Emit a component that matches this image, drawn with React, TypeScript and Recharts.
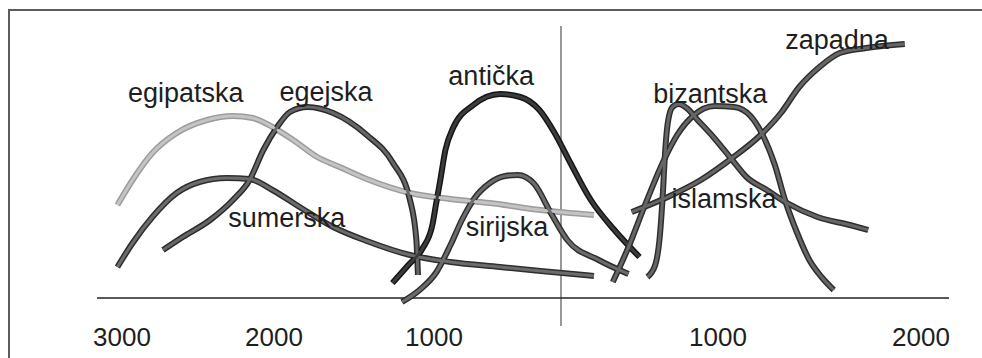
import React from 'react';
import {
  LineChart,
  Line,
  XAxis,
  YAxis,
  ReferenceLine,
  ReferenceDot
} from 'recharts';

// years (negative = BC) and relative weight of each civilisation
const egipatska = [
  { year: -3030, v: 46.5 }, { year: -2930, v: 59 }, { year: -2800, v: 72.5 },
  { year: -2640, v: 82.5 }, { year: -2440, v: 89 }, { year: -2270, v: 91 },
  { year: -2140, v: 90 }, { year: -2010, v: 85.5 }, { year: -1880, v: 79 },
  { year: -1730, v: 70.5 }, { year: -1590, v: 65.5 }, { year: -1420, v: 59.5 },
  { year: -1150, v: 52.5 }, { year: -870, v: 49.5 }, { year: -560, v: 47.5 },
  { year: -160, v: 44 }, { year: 210, v: 41.5 },
];

const sumerska = [
  { year: -3030, v: 15.5 }, { year: -2930, v: 27.5 }, { year: -2800, v: 40.5 },
  { year: -2640, v: 52.5 }, { year: -2490, v: 58 }, { year: -2310, v: 60 },
  { year: -2160, v: 59.5 }, { year: -2010, v: 54 }, { year: -1840, v: 45.5 },
  { year: -1630, v: 35.5 }, { year: -1420, v: 28.5 }, { year: -1150, v: 21.5 },
  { year: -870, v: 18 }, { year: -480, v: 15.5 }, { year: -160, v: 13.5 },
  { year: 210, v: 11 },
];

const egejska = [
  { year: -2730, v: 24 }, { year: -2600, v: 30.5 }, { year: -2420, v: 39 },
  { year: -2270, v: 49 }, { year: -2160, v: 59 }, { year: -2070, v: 74 },
  { year: -1980, v: 85.5 }, { year: -1900, v: 93 }, { year: -1790, v: 95.5 },
  { year: -1630, v: 92.5 }, { year: -1420, v: 81.5 }, { year: -1260, v: 68 },
  { year: -1150, v: 49 }, { year: -1110, v: 29 }, { year: -1100, v: 11.5 },
];

const anticka = [
  { year: -1260, v: 7.5 }, { year: -1160, v: 16.5 }, { year: -1070, v: 25 },
  { year: -1010, v: 36.5 }, { year: -985, v: 46.5 }, { year: -950, v: 59 },
  { year: -910, v: 74 }, { year: -850, v: 85 }, { year: -690, v: 96.5 },
  { year: -480, v: 102 }, { year: -320, v: 100.5 }, { year: -170, v: 94 },
  { year: -50, v: 82.5 }, { year: 60, v: 67.5 }, { year: 190, v: 49 },
  { year: 340, v: 34 }, { year: 500, v: 20.5 },
];

const sirijska = [
  { year: -1200, v: -2 }, { year: -1090, v: 4 }, { year: -980, v: 13 },
  { year: -870, v: 26.5 }, { year: -780, v: 39 }, { year: -680, v: 50 },
  { year: -560, v: 57.5 }, { year: -440, v: 61 }, { year: -340, v: 61.5 },
  { year: -210, v: 57 }, { year: -80, v: 42.5 }, { year: 40, v: 29 },
  { year: 240, v: 19 }, { year: 430, v: 12 },
];

const bizantska = [
  { year: 550, v: 10.5 }, { year: 600, v: 16.5 }, { year: 630, v: 31.5 },
  { year: 650, v: 54 }, { year: 660, v: 69 }, { year: 680, v: 87.5 },
  { year: 710, v: 95.5 }, { year: 750, v: 97 }, { year: 800, v: 95 },
  { year: 870, v: 89 }, { year: 970, v: 80.5 }, { year: 1070, v: 69 },
  { year: 1140, v: 60.5 }, { year: 1240, v: 54 }, { year: 1340, v: 47.5 },
  { year: 1490, v: 40.5 }, { year: 1650, v: 36.5 }, { year: 1740, v: 34 },
];

const islamska = [
  { year: 330, v: 8 }, { year: 430, v: 25.5 }, { year: 530, v: 45.5 },
  { year: 650, v: 68 }, { year: 740, v: 81.5 }, { year: 840, v: 91 },
  { year: 980, v: 96 }, { year: 1080, v: 95.5 }, { year: 1160, v: 91 },
  { year: 1220, v: 81.5 }, { year: 1280, v: 66.5 }, { year: 1330, v: 49 },
  { year: 1390, v: 32.5 }, { year: 1450, v: 19 }, { year: 1510, v: 10.5 },
  { year: 1570, v: 4 },
];

const zapadna = [
  { year: 450, v: 43 }, { year: 680, v: 50.5 }, { year: 890, v: 59 },
  { year: 1070, v: 70 }, { year: 1210, v: 81.5 }, { year: 1310, v: 92.5 },
  { year: 1400, v: 105.5 }, { year: 1500, v: 115.5 }, { year: 1600, v: 122.5 },
  { year: 1730, v: 125 }, { year: 1920, v: 127 },
];

const labels = [
  { text: 'egipatska', year: -2580, v: 102.8 },
  { text: 'egejska', year: -1675, v: 103.3 },
  { text: 'antička', year: -550, v: 111.3 },
  { text: 'sumerska', year: -1920, v: 40.3 },
  { text: 'sirijska', year: -425, v: 35.8 },
  { text: 'bizantska', year: 950, v: 102.3 },
  { text: 'islamska', year: 1030, v: 49.8 },
  { text: 'zapadna', year: 1586, v: 129.3 },
];

const yearTicks = [-3000, -2000, -1000, 1000, 2000];

// the hand drawn time axis is not evenly spaced: piecewise linear scale
const KNOT_YEARS = [-3165, -3000, -2000, -1000, 0, 1000, 2000, 2140];
const KNOT_POS = [0, 0.0293, 0.2077, 0.3955, 0.5446, 0.7289, 0.9671, 1];

function timelineScale() {
  let dom: number[] = [KNOT_YEARS[0], KNOT_YEARS[KNOT_YEARS.length - 1]];
  let rng: number[] = [0, 1];
  const frac = (y: number) => {
    let i = 0;
    while (i < KNOT_YEARS.length - 2 && y > KNOT_YEARS[i + 1]) i++;
    const t = (y - KNOT_YEARS[i]) / (KNOT_YEARS[i + 1] - KNOT_YEARS[i]);
    return KNOT_POS[i] + t * (KNOT_POS[i + 1] - KNOT_POS[i]);
  };
  const s: any = (y: number) => {
    const f0 = frac(dom[0]);
    const f1 = frac(dom[1]);
    const t = (frac(y) - f0) / (f1 - f0);
    return rng[0] + t * (rng[1] - rng[0]);
  };
  s.domain = (d?: number[]) => {
    if (!d) return dom;
    dom = [Number(d[0]), Number(d[1])];
    return s;
  };
  s.range = (r?: number[]) => {
    if (!r) return rng;
    rng = [Number(r[0]), Number(r[1])];
    return s;
  };
  s.copy = () => timelineScale().domain(dom).range(rng);
  s.ticks = () => yearTicks;
  s.invert = (px: number) => {
    const t = (px - rng[0]) / (rng[1] - rng[0]);
    let i = 0;
    while (i < KNOT_POS.length - 2 && t > KNOT_POS[i + 1]) i++;
    const u = (t - KNOT_POS[i]) / (KNOT_POS[i + 1] - KNOT_POS[i]);
    return KNOT_YEARS[i] + u * (KNOT_YEARS[i + 1] - KNOT_YEARS[i]);
  };
  return s;
}

const FONT = '"Liberation Sans", Arial, sans-serif';

const series = [
  { name: 'egipatska', data: egipatska, outer: '#9c9c9c', inner: '#c4c4c4' },
  { name: 'sumerska', data: sumerska, outer: '#2e2e2e', inner: '#6c6c6c' },
  { name: 'egejska', data: egejska, outer: '#2a2a2a', inner: '#666666' },
  { name: 'sirijska', data: sirijska, outer: '#2e2e2e', inner: '#6c6c6c' },
  { name: 'anticka', data: anticka, outer: '#151515', inner: '#3c3c3c' },
  { name: 'zapadna', data: zapadna, outer: '#2e2e2e', inner: '#666666' },
  { name: 'islamska', data: islamska, outer: '#2e2e2e', inner: '#666666' },
  { name: 'bizantska', data: bizantska, outer: '#2e2e2e', inner: '#666666' },
];

export default function App() {
  const scale = timelineScale();
  return (
    <div style={{ position: 'absolute', left: 0, top: 0, width: 982, height: 358, overflow: 'hidden', background: '#fff' }}>
      <div style={{ position: 'absolute', left: 8, top: 9, width: 1000, height: 400, border: '2px solid #5c5c5c' }} />
      <div style={{ position: 'absolute', left: 0, top: 0 }}>
        <LineChart width={982} height={358} margin={{ top: 28, right: 33, bottom: 0, left: 97 }}>
          <XAxis
            type="number"
            dataKey="year"
            domain={[-3165, 2140]}
            scale={scale}
            allowDataOverflow
            ticks={yearTicks}
            interval={0}
            tickFormatter={(y: number) => String(Math.abs(y))}
            axisLine={false}
            tickLine={false}
            tickSize={0}
            tickMargin={-10}
            height={20}
            tick={{ fontSize: 26, fill: '#1e1e1e', fontFamily: FONT }}
          />
          <YAxis type="number" domain={[-20, 135]} hide width={0} allowDataOverflow={false} />
          <ReferenceLine y={0} stroke="#222" strokeWidth={1.5} />
          <ReferenceLine
            segment={[{ x: 0, y: -14 }, { x: 0, y: 136 }]}
            stroke="#333"
            strokeWidth={1}
            ifOverflow="visible"
          />
          {series.map((s) => (
            <Line
              key={s.name + '-edge'}
              data={s.data}
              dataKey="v"
              type="monotone"
              stroke={s.outer}
              strokeWidth={6}
              dot={false}
              activeDot={false}
              isAnimationActive={false}
            />
          ))}
          {series.map((s) => (
            <Line
              key={s.name + '-core'}
              data={s.data}
              dataKey="v"
              type="monotone"
              stroke={s.inner}
              strokeWidth={3}
              dot={false}
              activeDot={false}
              isAnimationActive={false}
            />
          ))}
          {labels.map((l) => (
            <ReferenceDot
              key={l.text}
              x={l.year}
              y={l.v}
              r={0}
              fill="none"
              stroke="none"
              ifOverflow="visible"
              label={{ value: l.text, position: 'center', fontSize: 27, fill: '#1e1e1e', fontFamily: FONT }}
            />
          ))}
        </LineChart>
      </div>
    </div>
  );
}
